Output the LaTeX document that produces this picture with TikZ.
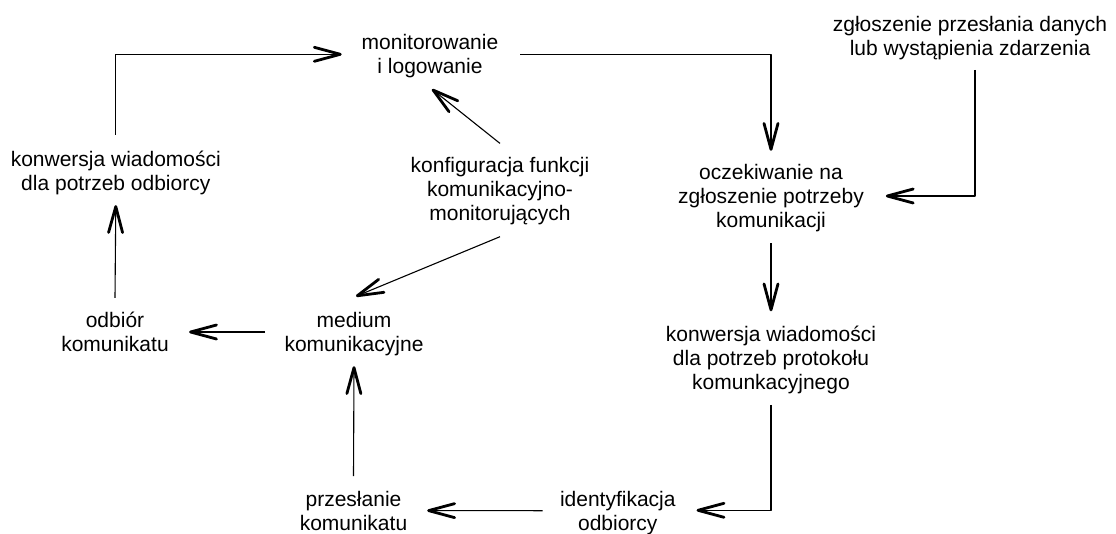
\documentclass[tikz,border=0pt]{standalone}
\usepackage{fontspec}
\setmainfont{Liberation Sans}
\usetikzlibrary{arrows.meta}
\begin{document}
\begin{tikzpicture}[x=1pt,y=-1pt,
  lbl/.style={align=center, inner sep=0pt, outer sep=0pt,
    font=\fontsize{21}{24}\selectfont},
  conn/.style={line width=1.1pt, draw=black, line join=round,
    -{Straight Barb[length=26pt,width=14pt,line width=2.8pt,round]}}]
\fill[white] (0,0) rectangle (1116,533);
\useasboundingbox (0,0) rectangle (1116,533);

% process steps
\node[lbl] (mon)   at (430,56.3)    {monitorowanie\\i logowanie};
\node[lbl] (kodb)  at (115.8,172.9) {konwersja wiadomości\\dla potrzeb odbiorcy};
\node[lbl] (konf)  at (500,190.9)   {konfiguracja funkcji\\komunikacyjno-\\monitorujących};
\node[lbl] (zg)    at (970,38)      {zgłoszenie przesłania danych\\lub wystąpienia zdarzenia};
\node[lbl] (ocz)   at (771,198)     {oczekiwanie na\\zgłoszenie potrzeby\\komunikacji};
\node[lbl] (kwp)   at (771,360.2)   {konwersja wiadomości\\dla potrzeb protokołu\\komunkacyjnego};
\node[lbl] (ident) at (617.8,512.9) {identyfikacja\\odbiorcy};
\node[lbl] (prz)   at (353.5,510.6) {przesłanie\\komunikatu};
\node[lbl] (med)   at (354,333.6)   {medium\\komunikacyjne};
\node[lbl] (odb)   at (115,331.4)   {odbiór\\komunikatu};

% flow between the steps
\draw[conn] ([yshift=16pt]kodb.north) |- ([xshift=-20pt,yshift=2pt]mon.west);
\draw[conn] ([xshift=22pt,yshift=2pt]mon.east) -| ([yshift=13.4pt]ocz.north);
\draw[conn] ([xshift=5pt,yshift=-10pt]zg.south) |- ([xshift=22pt,yshift=2pt]ocz.east);
\draw[conn] ([yshift=-11.5pt]ocz.south) -- ([yshift=15pt]kwp.north);
\draw[conn] ([yshift=-10.7pt]kwp.south) |- ([xshift=21pt,yshift=2.6pt]ident.east);
\draw[conn] ([xshift=-17.5pt,yshift=2.2pt]ident.west) -- ([xshift=20pt]prz.east);
\draw[conn] ([yshift=14.7pt]prz.north) -- ([yshift=-10.8pt]med.south);
\draw[conn] ([xshift=-19.5pt,yshift=1.6pt]med.west) -- ([xshift=20.4pt,yshift=-0.6pt]odb.east);
\draw[conn] ([yshift=13.8pt]odb.north) -- ([yshift=-10.3pt]kodb.south);
\draw[conn] ([yshift=13.7pt]konf.north) -- ([xshift=2pt,yshift=-11.1pt]mon.south);
\draw[conn] ([yshift=-12pt]konf.south) -- ([xshift=2pt,yshift=15.5pt]med.north);
\end{tikzpicture}
\end{document}
